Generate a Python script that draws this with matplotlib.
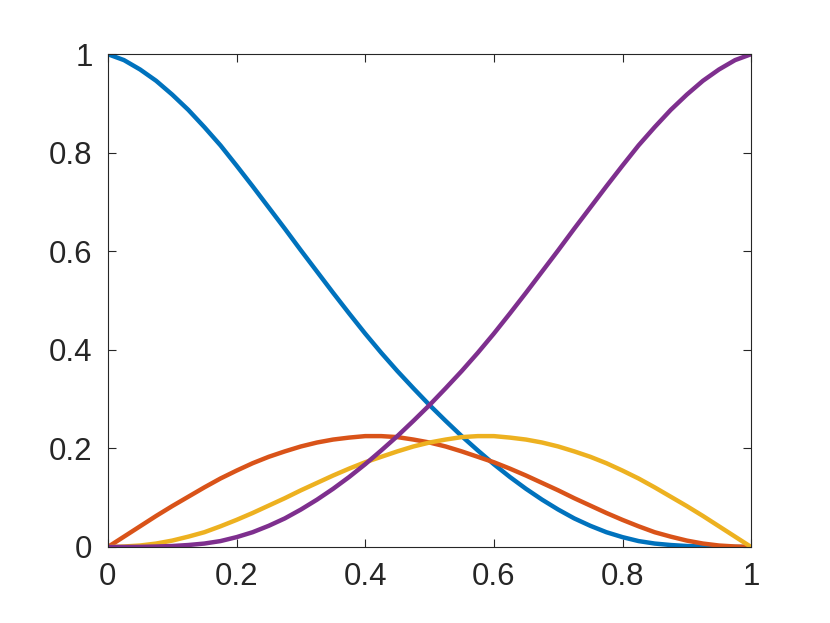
import matplotlib
matplotlib.use('Agg')
import matplotlib.pyplot as plt

# sample positions (step 0.025) and curve values
x = [0.0, 0.025, 0.05, 0.075, 0.1, 0.125, 0.15, 0.175, 0.2, 0.225,
     0.25, 0.275, 0.3, 0.325, 0.35, 0.375, 0.4, 0.425, 0.45, 0.475,
     0.5, 0.525, 0.55, 0.575, 0.6, 0.625, 0.65, 0.675, 0.7, 0.725,
     0.75, 0.775, 0.8, 0.825, 0.85, 0.875, 0.9, 0.925, 0.95, 0.975, 1.0]
blue = [1.000, 0.988, 0.969, 0.946, 0.918, 0.887, 0.852, 0.815, 0.774, 0.732,
        0.689, 0.646, 0.602, 0.559, 0.516, 0.474, 0.433, 0.394, 0.357, 0.322,
        0.288, 0.256, 0.225, 0.196, 0.168, 0.142, 0.118, 0.096, 0.076, 0.058,
        0.043, 0.030, 0.020, 0.012, 0.007, 0.004, 0.002, 0.001, 0.0003, 0.0001, 0.0]
red = [0.000, 0.021, 0.042, 0.063, 0.083, 0.102, 0.121, 0.139, 0.155, 0.170,
       0.183, 0.194, 0.204, 0.212, 0.218, 0.222, 0.225, 0.225, 0.223, 0.218,
       0.212, 0.204, 0.194, 0.183, 0.172, 0.159, 0.145, 0.130, 0.115, 0.099,
       0.084, 0.069, 0.055, 0.042, 0.030, 0.021, 0.013, 0.007, 0.003, 0.001, 0.0]
yellow = [0.000, 0.001, 0.003, 0.007, 0.013, 0.021, 0.030, 0.042, 0.055, 0.069,
          0.084, 0.099, 0.115, 0.130, 0.145, 0.159, 0.172, 0.183, 0.194, 0.204,
          0.212, 0.218, 0.223, 0.225, 0.225, 0.222, 0.218, 0.212, 0.204, 0.194,
          0.183, 0.170, 0.155, 0.139, 0.121, 0.102, 0.083, 0.063, 0.042, 0.021, 0.0]
purple = [0.000, 0.0001, 0.0003, 0.001, 0.002, 0.004, 0.007, 0.012, 0.020, 0.030,
          0.043, 0.058, 0.076, 0.096, 0.118, 0.142, 0.168, 0.196, 0.225, 0.256,
          0.288, 0.322, 0.357, 0.394, 0.433, 0.474, 0.516, 0.559, 0.602, 0.646,
          0.689, 0.732, 0.774, 0.815, 0.852, 0.887, 0.918, 0.946, 0.969, 0.988, 1.0]

ticks = [0, 0.2, 0.4, 0.6, 0.8, 1]
tick_labels = ['0', '0.2', '0.4', '0.6', '0.8', '1']

plt.rcParams['font.family'] = ['Liberation Sans', 'DejaVu Sans']

fig = plt.figure(figsize=(8.3, 6.23), dpi=100)
ax = fig.add_axes([0.130, 0.122, 0.775, 0.791])

for vals, col in [(blue, '#0072BD'), (red, '#D95319'),
                  (yellow, '#EDB120'), (purple, '#7E2F8E')]:
    ax.plot(x, vals, color=col, lw=3.2, solid_joinstyle='round')

ax.set_xlim(0, 1)
ax.set_ylim(0, 1)
ax.set_xticks(ticks)
ax.set_xticklabels(tick_labels)
ax.set_yticks(ticks)
ax.set_yticklabels(tick_labels)
ax.tick_params(direction='in', length=6, width=0.8, top=True, right=True,
               labelsize=22.5, colors='#262626')
ax.tick_params(axis='x', pad=11)
ax.tick_params(axis='y', pad=11)
for s in ax.spines.values():
    s.set_color('#262626')
    s.set_linewidth(0.8)

fig.savefig('out.png', dpi=100)
